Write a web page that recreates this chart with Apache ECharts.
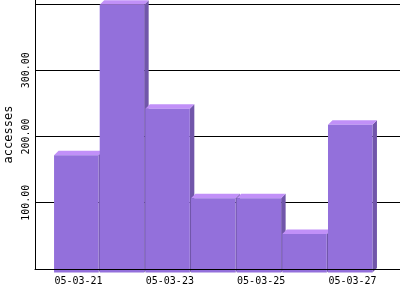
<!DOCTYPE html>
<html><head><meta charset="utf-8">
<script src="https://cdn.jsdelivr.net/npm/echarts@6/dist/echarts.min.js"></script>
<style>html,body{margin:0;padding:0;background:#fff}#c{width:400px;height:300px}</style>
</head><body><div id="c"></div>
<script>
const categories = ['05-03-21','05-03-22','05-03-23','05-03-24','05-03-25','05-03-26','05-03-27'];
const accesses = [177, 404, 247, 112, 112, 58, 223];
const yTicks = [0, 100, 200, 300, 400];

const FONT = 'DejaVu Sans Mono';
const chart = echarts.init(document.getElementById('c'), null, {renderer:'canvas'});
const D = 4.5, DROP = 3.5;
chart.setOption({
  animation: false,
  backgroundColor: '#fff',
  grid: [
    {left: 35, right: 0, top: 0, bottom: 31, containLabel:false, outerBoundsMode:'none'},
    {left: 55.7, right: 24.7, top: 0, bottom: 31, containLabel:false, outerBoundsMode:'none'}
  ],
  xAxis: [
    {type:'value', gridIndex:0, min:0, max:1, z:5,
     axisLine:{show:true, lineStyle:{color:'#000', width:1}},
     axisTick:{show:false}, axisLabel:{show:false}, splitLine:{show:false}},
    {type:'category', gridIndex:1, data: categories, boundaryGap:true,
     axisLine:{show:false}, axisTick:{show:false}, splitLine:{show:false},
     axisLabel:{interval:1, margin:7, color:'#000', fontFamily:FONT, fontSize:10}}
  ],
  yAxis: [
    {type:'value', gridIndex:0, min:0, max:406, interval:100,
     name:'accesses', nameLocation:'middle', nameGap:20, nameMoveOverlap:false,
     nameTextStyle:{color:'#000', fontFamily:FONT, fontSize:12},
     axisLine:{show:true, lineStyle:{color:'#000', width:1}},
     axisTick:{show:false},
     axisLabel:{rotate:90, margin:4, color:'#000', fontFamily:FONT, fontSize:10,
       formatter: v => (yTicks.indexOf(v) > 0 && v < 400) ? v.toFixed(2) : ''},
     splitLine:{show:true, lineStyle:{color:['#000','#000','#000','#000','#000','rgba(0,0,0,0)'], width:1}}},
    {type:'value', gridIndex:1, min:0, max:406, interval:100, show:false}
  ],
  series: [{
    type:'custom', xAxisIndex:1, yAxisIndex:1, clip:false,
    data: accesses.map((v,i)=>[i,v]),
    renderItem: function(params, api){
      const i = api.value(0), v = api.value(1);
      const base = api.coord([i, 0]);
      const top = api.coord([i, v]);
      const band = api.size([1, 0])[0];
      const w = band - 1.2;
      const x0 = base[0] - (w + D)/2, x1 = x0 + w;
      const yb = base[1] + DROP, yt = top[1] + DROP;
      return {type:'group', children:[
        {type:'polygon', shape:{points:[[x1,yt],[x1+D,yt-D],[x1+D,yb-D],[x1,yb]]},
         style:{fill:'#7156aa'}},
        {type:'polygon', shape:{points:[[x0,yt],[x0+D,yt-D],[x1+D,yt-D],[x1,yt]]},
         style:{fill:'#c190f8'}},
        {type:'rect', shape:{x:x0, y:yt, width:w, height:yb-yt},
         style:{fill:'#9370db'}}
      ]};
    }
  }]
});
</script></body></html>
